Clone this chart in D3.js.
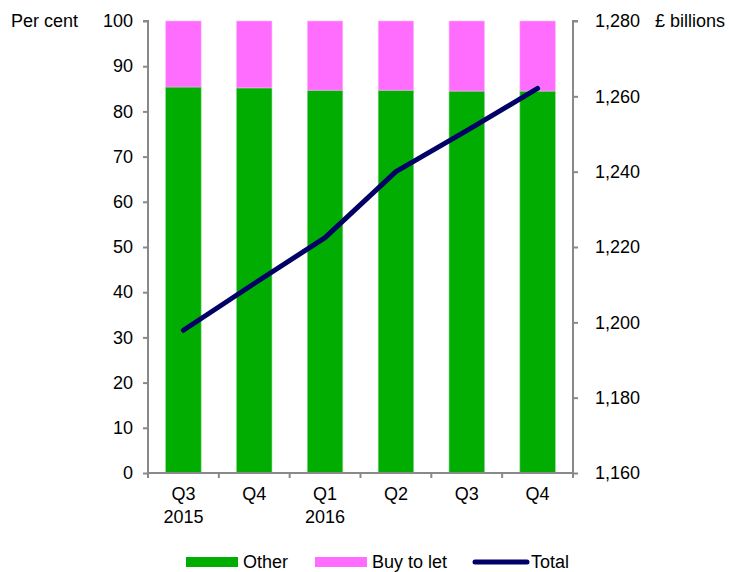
<!DOCTYPE html>
<html>
<head>
<meta charset="utf-8">
<script src="https://cdn.jsdelivr.net/npm/d3@7"></script>
<style>
  body { margin: 0; background: #fff; }
  text { font-family: "Liberation Sans", Arial, sans-serif; font-size: 18px; fill: #000; }
</style>
</head>
<body>
<div id="chart"></div>
<script>
const quarters = ["Q3", "Q4", "Q1", "Q2", "Q3", "Q4"];
const years = ["2015", "", "2016", "", "", ""];
const otherShare = [85.4, 85.2, 84.7, 84.7, 84.5, 84.5];
const buyToLetShare = [14.6, 14.8, 15.3, 15.3, 15.5, 15.5];
const totalLending = [1197.9, 1210.3, 1222.5, 1240.0, 1250.9, 1262.1];
const leftTicks = [0, 10, 20, 30, 40, 50, 60, 70, 80, 90, 100];
const rightTicks = [1160, 1180, 1200, 1220, 1240, 1260, 1280];

let width = 729, height = 572;
let margin = {left: 148, right: 156, top: 21, bottom: 99};
let plotW = width - margin.left - margin.right;
let plotH = height - margin.top - margin.bottom;
let axisColor = "#898989";

let svg = d3.select("#chart").append("svg").attr("width", width).attr("height", height);
let g = svg.append("g").attr("transform", "translate(" + margin.left + "," + margin.top + ")");

let x = d3.scaleBand().domain(d3.range(quarters.length)).range([0, plotW]).paddingInner(0.5).paddingOuter(0.25);
let xOuter = d3.scaleBand().domain(d3.range(quarters.length)).range([0, plotW]);
let yLeft = d3.scaleLinear().domain([0, 100]).range([plotH, 0]);
let yRight = d3.scaleLinear().domain([1160, 1280]).range([plotH, 0]);

// stacked bars
let rows = quarters.map((q, i) => ({i: i, other: otherShare[i], btl: buyToLetShare[i]}));
let stacked = d3.stack().keys(["other", "btl"])(rows);
let colors = {other: "#00ad00", btl: "#ff6dff"};
let strokes = {other: "#7fd67f", btl: "#ffb6ff"};
stacked.forEach(layer => {
    g.selectAll(null).data(layer).enter().append("rect")
        .attr("x", d => x(d.data.i))
        .attr("y", d => yLeft(Math.min(d[1], 100)))
        .attr("width", x.bandwidth())
        .attr("height", d => yLeft(d[0]) - yLeft(Math.min(d[1], 100)))
        .attr("fill", colors[layer.key])
        .attr("stroke", strokes[layer.key])
        .attr("stroke-width", 0.6);
});

// left axis
let leftAxis = g.append("g").call(d3.axisLeft(yLeft).tickValues(leftTicks).tickSize(5).tickPadding(10));
// right axis
let rightAxis = g.append("g").attr("transform", "translate(" + plotW + ",0)")
    .call(d3.axisRight(yRight).tickValues(rightTicks).tickSize(5).tickPadding(17).tickFormat(d3.format(",")));
// bottom axis
let bottomAxis = g.append("g").attr("transform", "translate(0," + plotH + ")");
bottomAxis.append("line").attr("x1", 0).attr("x2", plotW).attr("y1", 0).attr("y2", 0);
bottomAxis.selectAll(".tk").data(d3.range(quarters.length + 1)).enter().append("line")
    .attr("x1", d => d === quarters.length ? plotW : xOuter(d))
    .attr("x2", d => d === quarters.length ? plotW : xOuter(d))
    .attr("y1", 0).attr("y2", 5);
bottomAxis.selectAll("line").attr("stroke", axisColor).attr("stroke-width", 2);
bottomAxis.selectAll(".q").data(quarters).enter().append("text")
    .attr("x", (d, i) => x(i) + x.bandwidth() / 2).attr("y", 27)
    .attr("text-anchor", "middle").text(d => d);
bottomAxis.selectAll(".yr").data(years).enter().append("text")
    .attr("x", (d, i) => x(i) + x.bandwidth() / 2).attr("y", 50)
    .attr("text-anchor", "middle").text(d => d);

[leftAxis, rightAxis].forEach(ax => {
    ax.select(".domain").attr("stroke", axisColor).attr("stroke-width", 2);
    ax.selectAll(".tick line").attr("stroke", axisColor).attr("stroke-width", 2);
    ax.selectAll("text").attr("font-size", 18).attr("font-family", "Liberation Sans, Arial, sans-serif").attr("fill", "#000");
});
leftAxis.select(".domain").attr("d", "M-5,0H0V" + plotH);
rightAxis.select(".domain").attr("d", "M5,0H0V" + plotH);

// total line
let line = d3.line().x((d, i) => x(i) + x.bandwidth() / 2).y(d => yRight(d));
g.append("path").datum(totalLending).attr("d", line)
    .attr("fill", "none").attr("stroke", "#000066").attr("stroke-width", 5)
    .attr("stroke-linecap", "round").attr("stroke-linejoin", "round");

// axis titles
svg.append("text").attr("x", 11).attr("y", 27).text("Per cent");
svg.append("text").attr("x", 655).attr("y", 27).text("£ billions");

// legend
let legend = svg.append("g").attr("transform", "translate(0,562)");
legend.append("rect").attr("x", 186).attr("y", -5).attr("width", 52).attr("height", 10).attr("fill", colors.other);
legend.append("text").attr("x", 243).attr("y", 6).text("Other");
legend.append("rect").attr("x", 315).attr("y", -5).attr("width", 52).attr("height", 10).attr("fill", colors.btl);
legend.append("text").attr("x", 372).attr("y", 6).text("Buy to let");
legend.append("line").attr("x1", 475).attr("x2", 527).attr("y1", 0).attr("y2", 0)
    .attr("stroke", "#000066").attr("stroke-width", 5).attr("stroke-linecap", "round");
legend.append("text").attr("x", 531).attr("y", 6).text("Total");
</script>
</body>
</html>
